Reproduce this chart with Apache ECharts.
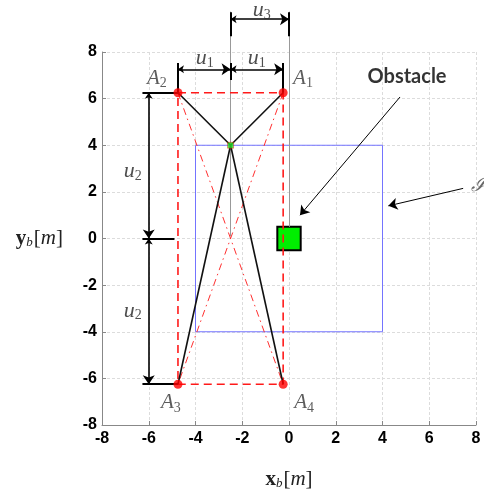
<!DOCTYPE html>
<html><head><meta charset="utf-8">
<script src="https://cdn.jsdelivr.net/npm/echarts@6/dist/echarts.min.js"></script>
<style>html,body{margin:0;padding:0;background:#fff}#c{width:484px;height:496px}</style>
</head><body><div id="c"></div>
<script>
// ---- data ----
const vertexNames = ['A1', 'A2', 'A3', 'A4'];
const vertexX = [-0.25, -4.75, -4.75, -0.25];
const vertexY = [6.25, 6.25, -6.25, -6.25];
const hubPoint = [-2.5, 4];
const workspaceX = [-4, 4];
const workspaceY = [-4, 4];
const obstacleX = [-0.5, 0.5];
const obstacleY = [-0.5, 0.5];
const xTicks = [-8, -6, -4, -2, 0, 2, 4, 6, 8];
const yTicks = [-8, -6, -4, -2, 0, 2, 4, 6, 8];

const P = i => [vertexX[i], vertexY[i]];
const A1 = P(0), A2 = P(1), A3 = P(2), A4 = P(3);

const chart = echarts.init(document.getElementById('c'), null, {renderer: 'canvas'});
const serif = 'Liberation Serif';
const richMath = {
  it: {fontFamily: serif, fontStyle: 'italic', fontSize: 22, color: '#222'},
  sub: {fontFamily: serif, fontSize: 14, color: '#222', padding: [10, 0, 0, 0]},
  itA: {fontFamily: serif, fontStyle: 'italic', fontSize: 21, color: '#333'},
  subA: {fontFamily: serif, fontSize: 14, color: '#333', padding: [10, 0, 0, 0]}
};
function uLabel(n) { return '{it|u}{sub|' + n + '}'; }
function aLabel(n) { return '{itA|A}{subA|' + n + '}'; }

const dimY_u3 = 9.41, dimY_u1 = 7.26, dimX_u2 = -6;

const nameRich = {
  bx: {fontFamily: serif, fontWeight: 'bold', fontSize: 21, color: '#222'},
  sb: {fontFamily: serif, fontStyle: 'italic', fontSize: 13, color: '#222', padding: [8, 1, 0, 0]},
  br: {fontFamily: serif, fontSize: 21, color: '#222'},
  im: {fontFamily: serif, fontStyle: 'italic', fontSize: 21, color: '#222'}
};

const option = {
  animation: false,
  backgroundColor: '#fff',
  grid: {left: 102, right: 8, top: 52, bottom: 71, containLabel: false, outerBoundsMode: 'none'},
  xAxis: {
    type: 'value', min: -8, max: 8, interval: 2,
    axisLine: {show: true, onZero: false, lineStyle: {color: '#888', width: 1}},
    axisTick: {show: true, inside: true, length: 4, lineStyle: {color: '#888'}},
    axisLabel: {color: '#000', fontWeight: 'bold', fontSize: 16, fontFamily: 'Liberation Sans', margin: 6,
      formatter: v => xTicks.includes(v) ? String(v) : ''},
    splitLine: {show: true, lineStyle: {color: '#dcdcdc', type: [3, 2], width: 1}},
    name: '{bx|x}{sb|b}{br|[}{im|m}{br|]}',
    nameLocation: 'middle', nameGap: 44,
    nameTextStyle: {rich: nameRich}
  },
  yAxis: {
    type: 'value', min: -8, max: 8, interval: 2,
    axisLine: {show: true, onZero: false, lineStyle: {color: '#888', width: 1}},
    axisTick: {show: true, inside: true, length: 4, lineStyle: {color: '#888'}},
    axisLabel: {color: '#000', fontWeight: 'bold', fontSize: 16, fontFamily: 'Liberation Sans', margin: 5,
      formatter: v => yTicks.includes(v) ? String(v) : ''},
    splitLine: {show: true, lineStyle: {color: '#dcdcdc', type: [3, 2], width: 1}},
    name: '{bx|y}{sb|b}{br|[}{im|m}{br|]}',
    nameLocation: 'middle', nameRotate: 0, nameGap: 39,
    nameTextStyle: {rich: nameRich}
  },
  series: [
    // workspace rectangle
    {type: 'line', symbol: 'none', silent: true, z: 2,
      lineStyle: {color: '#7474ff', width: 1},
      data: [[workspaceX[0], workspaceY[1]], [workspaceX[1], workspaceY[1]], [workspaceX[1], workspaceY[0]],
             [workspaceX[0], workspaceY[0]], [workspaceX[0], workspaceY[1]]]},
    // obstacle
    {type: 'line', data: [], z: 6,
      markArea: {silent: true, itemStyle: {color: '#00ee00', borderColor: '#000', borderWidth: 2},
        data: [[{coord: [obstacleX[0], obstacleY[0]]}, {coord: [obstacleX[1], obstacleY[1]]}]]}},
    // gray guide lines
    {type: 'lines', coordinateSystem: 'cartesian2d', clip: false, silent: true, z: 3,
      lineStyle: {color: '#999', width: 1, opacity: 1},
      data: [{coords: [[hubPoint[0], 9.73], [hubPoint[0], 0.1]]},
             {coords: [[0, 9.73], [0, obstacleY[1]]]}]},
    // red dashed rectangle
    {type: 'line', symbol: 'none', silent: true, z: 4,
      lineStyle: {color: '#ff1a1a', width: 1.6, type: [8, 5]},
      data: [A2, A1, A4, A3, A2]},
    // red dash-dot diagonals
    {type: 'lines', coordinateSystem: 'cartesian2d', clip: false, silent: true, z: 4,
      lineStyle: {color: '#ff3030', width: 1, type: [7, 4, 1.5, 4], opacity: 1},
      data: [{coords: [A2, A4]}, {coords: [A1, A3]}]},
    // black cable lines
    {type: 'lines', coordinateSystem: 'cartesian2d', clip: false, silent: true, z: 5,
      lineStyle: {color: '#111', width: 1.6, opacity: 1},
      data: [{coords: [A2, hubPoint]}, {coords: [A1, hubPoint]}, {coords: [hubPoint, A3]}, {coords: [hubPoint, A4]}]},
    // dimension extension ticks
    {type: 'lines', coordinateSystem: 'cartesian2d', clip: false, silent: true, z: 5,
      lineStyle: {color: '#000', width: 2, opacity: 1},
      data: [
        {coords: [[hubPoint[0], 9.7], [hubPoint[0], 8.68]]},
        {coords: [[0, 9.7], [0, 8.68]]},
        {coords: [[A2[0], 7.53], A2]},
        {coords: [[A1[0], 7.53], A1]},
        {coords: [[hubPoint[0], 7.53], [hubPoint[0], 6.8]]},
        {coords: [[-6.27, A2[1]], A2]},
        {coords: [[-6.27, 0], [-4.9, 0]]},
        {coords: [[-6.27, A3[1]], A3]}
      ]},
    // double-headed dimension arrows
    {type: 'lines', coordinateSystem: 'cartesian2d', clip: false, silent: true, z: 5,
      symbol: ['arrow', 'arrow'], symbolSize: [6, 9],
      lineStyle: {color: '#000', width: 1.6, opacity: 1},
      data: [
        {coords: [[hubPoint[0], dimY_u3], [0, dimY_u3]]},
        {coords: [[A2[0], dimY_u1], [hubPoint[0], dimY_u1]]},
        {coords: [[hubPoint[0], dimY_u1], [A1[0], dimY_u1]]},
        {coords: [[dimX_u2, A2[1]], [dimX_u2, 0]]},
        {coords: [[dimX_u2, 0], [dimX_u2, A3[1]]]}
      ]},
    // pointer arrows
    {type: 'lines', coordinateSystem: 'cartesian2d', clip: false, silent: true, z: 7,
      symbol: ['none', 'arrow'], symbolSize: [6, 9],
      lineStyle: {color: '#000', width: 1, opacity: 1},
      data: [
        {coords: [[4.75, 6.07], [0.47, 1.0]]},
        {coords: [[7.45, 2.15], [4.25, 1.4]]}
      ]},
    // vertices
    {type: 'scatter', symbol: 'circle', symbolSize: 9, z: 8, silent: true,
      itemStyle: {color: '#ff0000'},
      data: vertexNames.map((n, i) => P(i))},
    // hub point
    {type: 'scatter', symbol: 'rect', symbolSize: 6, z: 8, silent: true,
      itemStyle: {color: '#22dd22', borderColor: '#ff0000', borderWidth: 0.5},
      data: [hubPoint]},
    // text labels
    {type: 'scatter', symbolSize: 0, clip: false, z: 9, silent: true,
      label: {show: true, position: 'inside', rich: richMath, color: '#222'},
      data: [
        {value: [-1.17, 9.79], label: {formatter: uLabel(3)}},
        {value: [-3.6, 7.73], label: {formatter: uLabel(1)}},
        {value: [-1.38, 7.73], label: {formatter: uLabel(1)}},
        {value: [-6.68, 2.9], label: {formatter: uLabel(2)}},
        {value: [-6.68, -3.1], label: {formatter: uLabel(2)}},
        {value: [A2[0] - 0.9, A2[1] + 0.6], label: {formatter: aLabel(2)}},
        {value: [A1[0] + 0.85, A1[1] + 0.6], label: {formatter: aLabel(1)}},
        {value: [A3[0] - 0.3, A3[1] - 0.8], label: {formatter: aLabel(3)}},
        {value: [A4[0] + 0.9, A4[1] - 0.8], label: {formatter: aLabel(4)}},
        {value: [5.05, 6.93], label: {formatter: 'Obstacle', fontFamily: 'Lato', fontWeight: 'bold', fontSize: 20, color: '#000'}},
        {value: [8.1, 2.25], label: {formatter: 'ℐ', fontFamily: 'DejaVu Serif', fontStyle: 'italic', fontSize: 20, color: '#444'}}
      ]}
  ]
};
chart.setOption(option);
</script>
</body></html>
